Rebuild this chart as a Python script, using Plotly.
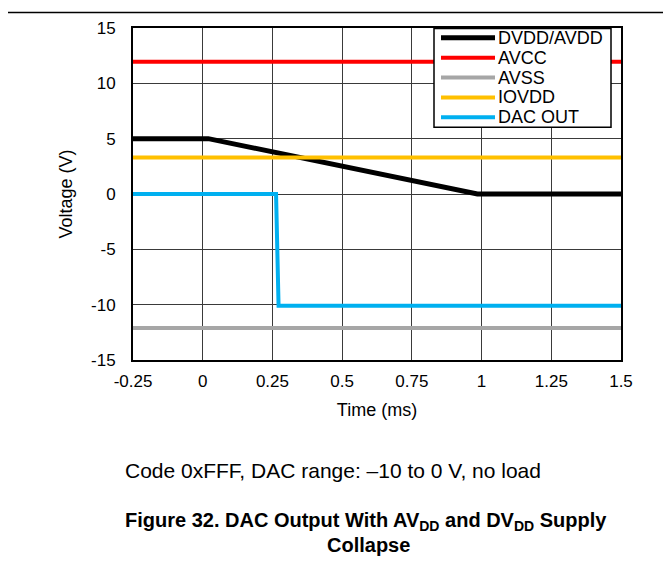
import plotly.graph_objects as go

# ---- data ----
series_names = ["DVDD/AVDD", "AVCC", "AVSS", "IOVDD", "DAC OUT"]
series_colors = ["#000000", "#FF0000", "#A6A6A6", "#FFC000", "#00B0F0"]

dvdd_t = [-0.25, 0.02, 0.985, 1.5]
dvdd_v = [5.0, 5.0, 0.0, 0.0]
avcc_t = [-0.25, 1.5]
avcc_v = [11.95, 11.95]
avss_t = [-0.25, 1.5]
avss_v = [-12.1, -12.1]
iovdd_t = [-0.25, 1.5]
iovdd_v = [3.3, 3.3]
dac_t = [-0.25, 0.263, 0.272, 1.5]
dac_v = [0.0, 0.0, -10.1, -10.1]

x_ticks = [-0.25, 0, 0.25, 0.5, 0.75, 1, 1.25, 1.5]
x_ticklabels = ["-0.25", "0", "0.25", "0.5", "0.75", "1", "1.25", "1.5"]
y_ticks = [-15, -10, -5, 0, 5, 10, 15]
y_ticklabels = ["-15", "-10", "-5", "0", "5", "10", "15"]

FONT = "Arial, Liberation Sans, sans-serif"
OFF = 8  # page body margin
W, H = 671 - OFF, 563 - OFF
L, R, T, B = 133, 621, 27.5, 360  # plot area in screenshot pixels


def px2x(px):
    return (px - L) / (R - L)


def py2y(py):
    return (B - py) / (B - T)


fig = go.Figure()
xs = [dvdd_t, avcc_t, avss_t, iovdd_t, dac_t]
ys = [dvdd_v, avcc_v, avss_v, iovdd_v, dac_v]
widths = [5, 4, 4, 4, 4]
for name, color, x, y, w in zip(series_names, series_colors, xs, ys, widths):
    fig.add_trace(go.Scatter(x=x, y=y, mode="lines", name=name,
                             line=dict(color=color, width=w), showlegend=False))

shapes = []
annotations = []

# manual legend box
shapes.append(dict(type="rect", xref="paper", yref="paper",
                   x0=px2x(434), x1=px2x(611), y0=py2y(127), y1=py2y(28),
                   fillcolor="white", line=dict(color="black", width=1.5), layer="above"))
for i, (name, color) in enumerate(zip(series_names, series_colors)):
    yc = 37.3 + i * 19.9
    shapes.append(dict(type="line", xref="paper", yref="paper",
                       x0=px2x(441), x1=px2x(495), y0=py2y(yc), y1=py2y(yc),
                       line=dict(color=color, width=5 if i == 0 else 4), layer="above"))
    annotations.append(dict(xref="paper", yref="paper", x=px2x(496), y=py2y(yc),
                            xanchor="left", yanchor="middle", showarrow=False,
                            text=name, font=dict(family=FONT, size=18, color="black")))

# top rule line
shapes.append(dict(type="line", xref="paper", yref="paper",
                   x0=px2x(0), x1=px2x(680), y0=py2y(12), y1=py2y(12),
                   line=dict(color="black", width=1.5), layer="above"))

annotations.append(dict(xref="paper", yref="paper", x=px2x(123), y=py2y(471),
                        xanchor="left", yanchor="middle", showarrow=False,
                        text="Code 0xFFF, DAC range: \u201310 to 0 V, no load",
                        font=dict(family=FONT, size=21, color="black")))
annotations.append(dict(xref="paper", yref="paper", x=px2x(366), y=py2y(522),
                        xanchor="center", yanchor="middle", showarrow=False,
                        text="<b>Figure 32. DAC Output With AV<sub>DD</sub> and DV<sub>DD</sub> Supply</b>",
                        font=dict(family=FONT, size=20, color="black")))
annotations.append(dict(xref="paper", yref="paper", x=px2x(368), y=py2y(545),
                        xanchor="center", yanchor="middle", showarrow=False,
                        text="<b>Collapse</b>",
                        font=dict(family=FONT, size=20, color="black")))

fig.update_layout(
    width=W, height=H,
    margin=dict(l=L - OFF, r=W - (R - OFF), t=T - OFF, b=H - (B - OFF), pad=0),
    paper_bgcolor="white", plot_bgcolor="white",
    font=dict(family=FONT, size=17, color="black"),
    shapes=shapes, annotations=annotations,
    showlegend=False,
)
fig.update_xaxes(range=[-0.25, 1.5], tickvals=x_ticks, ticktext=x_ticklabels,
                 showgrid=True, gridcolor="#3a3a3a", gridwidth=1,
                 showline=True, linecolor="black", linewidth=2, mirror=True,
                 ticks="", ticklabelstandoff=5, zeroline=False,
                 tickfont=dict(size=17),
                 title=dict(text="Time (ms)", font=dict(size=18), standoff=13))
fig.update_yaxes(range=[-15, 15], tickvals=y_ticks, ticktext=y_ticklabels,
                 showgrid=True, gridcolor="#3a3a3a", gridwidth=1,
                 showline=True, linecolor="black", linewidth=2, mirror=True,
                 ticks="", ticklabelstandoff=12, zeroline=False,
                 tickfont=dict(size=17),
                 title=dict(text="Voltage (V)", font=dict(size=18), standoff=14))

fig.write_html("out.html")
